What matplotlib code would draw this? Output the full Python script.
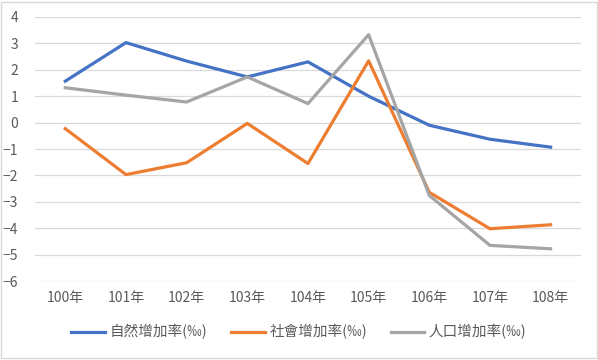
import matplotlib.pyplot as plt
from matplotlib.patches import Rectangle

plt.rcParams['font.family'] = ['Noto Sans CJK TC', 'DejaVu Sans']

years = ["100年", "101年", "102年", "103年", "104年", "105年", "106年", "107年", "108年"]
natural = [1.57, 3.03, 2.33, 1.73, 2.30, 1.0, -0.10, -0.63, -0.93]
social = [-0.23, -1.97, -1.52, -0.03, -1.55, 2.34, -2.64, -4.02, -3.87]
population = [1.32, 1.04, 0.78, 1.73, 0.72, 3.33, -2.76, -4.65, -4.78]

names = ["自然增加率(‰)", "社會增加率(‰)", "人口增加率(‰)"]
colors = ["#4472C4", "#ED7D31", "#A5A5A5"]

fig = plt.figure(figsize=(5.98, 3.6), dpi=100)
ax = fig.add_axes([0.0585, 0.2194, 0.913, 0.7334])

x = range(len(years))
for vals, name, c in zip([natural, social, population], names, colors):
    ax.plot(x, vals, color=c, lw=2.3, label=name, solid_joinstyle="round")

ax.set_xlim(-0.5, len(years) - 0.5)
ax.set_ylim(-6, 4)
ax.set_yticks(range(-6, 5))
ax.set_xticks(list(x))
ax.set_xticklabels(years)
ax.grid(axis="y", color="#D9D9D9", lw=0.9)
ax.set_axisbelow(True)
for s in ax.spines.values():
    s.set_visible(False)
ax.tick_params(length=0, labelsize=10, colors="#595959")
ax.tick_params(axis="y", pad=12)
ax.tick_params(axis="x", pad=7)

fig.legend(loc="lower center", bbox_to_anchor=(0.5, 0.02), ncol=3, frameon=False,
           fontsize=10.5, handlelength=2.3, columnspacing=1.65, handletextpad=0.3,
           labelcolor="#595959")

fig.patches.append(Rectangle((0.002, 0.005), 0.996, 0.99, transform=fig.transFigure,
                             fill=False, edgecolor="#D9D9D9", lw=1))

fig.savefig("out.png", dpi=100)
